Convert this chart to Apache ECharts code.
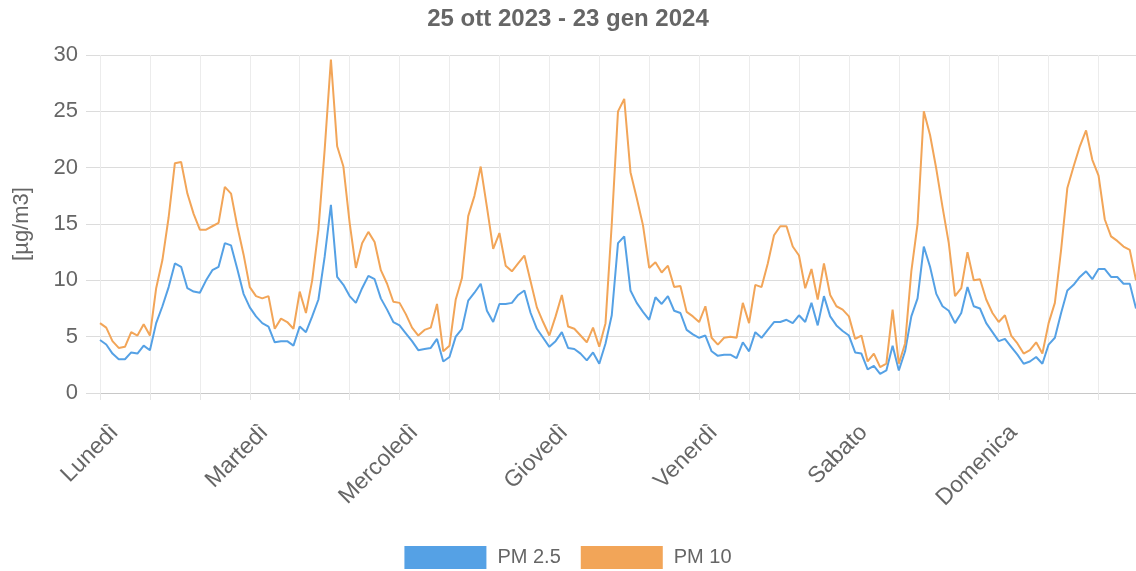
<!DOCTYPE html>
<html><head><meta charset="utf-8">
<script src="https://cdn.jsdelivr.net/npm/echarts/dist/echarts.min.js"></script>
<style>html,body{margin:0;padding:0;background:#fff}#c{width:1136px;height:571px}</style>
</head><body><div id="c"></div>
<script>
const title = '25 ott 2023 - 23 gen 2024';
const days = ['Lunedì','Martedì','Mercoledì','Giovedì','Venerdì','Sabato','Domenica'];
const yTicks = [0, 5, 10, 15, 20, 25, 30];
const pm25 = [
  // Lunedì
  4.7, 4.3, 3.5, 3.0, 3.0, 3.6, 3.5, 4.2, 3.8, 6.2, 7.7, 9.4, 11.5, 11.2, 9.3, 9.0, 8.9, 10.0, 10.9, 11.2, 13.3, 13.1, 11.0, 8.8,
  // Martedì
  7.6, 6.8, 6.2, 5.9, 4.5, 4.6, 4.6, 4.2, 5.9, 5.4, 6.8, 8.3, 12.1, 16.7, 10.3, 9.6, 8.6, 8.0, 9.3, 10.4, 10.1, 8.4, 7.4, 6.3,
  // Mercoledì
  6.0, 5.3, 4.6, 3.8, 3.9, 4.0, 4.8, 2.8, 3.2, 5.0, 5.7, 8.2, 8.9, 9.7, 7.3, 6.3, 7.9, 7.9, 8.0, 8.7, 9.1, 7.1, 5.7, 4.9,
  // Giovedì
  4.1, 4.6, 5.4, 4.0, 3.9, 3.5, 2.9, 3.6, 2.6, 4.4, 6.9, 13.3, 13.9, 9.1, 8.0, 7.2, 6.5, 8.5, 7.9, 8.6, 7.3, 7.1, 5.6, 5.2,
  // Venerdì
  4.9, 5.1, 3.7, 3.3, 3.4, 3.4, 3.1, 4.5, 3.7, 5.4, 4.9, 5.6, 6.3, 6.3, 6.5, 6.2, 6.9, 6.3, 8.0, 6.0, 8.6, 6.8, 6.0, 5.5,
  // Sabato
  5.1, 3.6, 3.5, 2.1, 2.4, 1.7, 2.0, 4.2, 2.0, 3.7, 6.8, 8.4, 13.0, 11.2, 8.8, 7.7, 7.3, 6.2, 7.1, 9.4, 7.7, 7.5, 6.2, 5.4,
  // Domenica
  4.6, 4.8, 4.1, 3.4, 2.6, 2.8, 3.2, 2.6, 4.3, 4.9, 7.1, 9.1, 9.6, 10.3, 10.8, 10.1, 11.0, 11.0, 10.3, 10.3, 9.7, 9.7, 7.5
];
const pm10 = [
  // Lunedì
  6.2, 5.8, 4.6, 4.0, 4.1, 5.4, 5.1, 6.1, 5.1, 9.3, 11.8, 15.6, 20.4, 20.5, 17.7, 15.9, 14.5, 14.5, 14.8, 15.1, 18.3, 17.7, 14.8, 12.3,
  // Martedì
  9.4, 8.6, 8.4, 8.6, 5.7, 6.6, 6.3, 5.7, 9.0, 7.1, 10.0, 14.5, 21.6, 29.6, 21.9, 20.1, 15.1, 11.1, 13.3, 14.3, 13.4, 10.9, 9.7, 8.1,
  // Mercoledì
  8.0, 7.0, 5.8, 5.1, 5.6, 5.8, 7.9, 3.7, 4.2, 8.3, 10.2, 15.7, 17.5, 20.1, 16.5, 12.8, 14.2, 11.3, 10.8, 11.5, 12.2, 9.9, 7.6, 6.3,
  // Giovedì
  5.1, 6.8, 8.7, 5.9, 5.7, 5.1, 4.5, 5.8, 4.1, 6.2, 15.0, 25.0, 26.1, 19.6, 17.3, 14.9, 11.1, 11.6, 10.7, 11.3, 9.4, 9.5, 7.2, 6.8,
  // Venerdì
  6.3, 7.7, 4.9, 4.3, 4.9, 5.0, 4.9, 8.0, 6.2, 9.6, 9.4, 11.5, 14.0, 14.8, 14.8, 13.0, 12.2, 9.3, 11.0, 8.3, 11.5, 8.7, 7.7, 7.4,
  // Sabato
  6.8, 4.8, 5.1, 2.8, 3.5, 2.3, 2.6, 7.4, 2.6, 4.4, 10.8, 15.0, 25.0, 22.9, 19.9, 16.5, 13.3, 8.6, 9.3, 12.5, 10.0, 10.1, 8.3, 7.1,
  // Domenica
  6.3, 6.9, 5.1, 4.4, 3.5, 3.8, 4.5, 3.5, 6.2, 8.0, 12.7, 18.2, 20.1, 21.9, 23.3, 20.7, 19.3, 15.4, 13.9, 13.5, 13.0, 12.7, 10.0
];
const categories = pm25.map((_, i) => days[Math.floor(i / 24)] + ' ' + (i % 24));

const FONT = '"Liberation Sans", Arial, sans-serif';
const chart = echarts.init(document.getElementById('c'), null, {renderer: 'canvas'});
chart.setOption({
  animation: false,
  backgroundColor: '#fff',
  title: {
    text: title, left: 'center', top: 2,
    textStyle: {fontFamily: FONT, fontSize: 24, fontWeight: 'bold', color: '#666'}
  },
  legend: {
    bottom: 2, left: 'center', padding: 0, icon: 'rect', itemWidth: 82, itemHeight: 23, itemGap: 20,
    textStyle: {fontFamily: FONT, fontSize: 20, color: '#666', padding: [0, 0, 0, 6]},
    data: ['PM 2.5', 'PM 10']
  },
  grid: {left: 100, right: 0, top: 55, bottom: 178, containLabel: false, outerBoundsMode: 'none'},
  xAxis: {
    type: 'category', data: categories, boundaryGap: false,
    axisLine: {show: true, lineStyle: {color: '#c8c8c8', width: 1}},
    axisTick: {show: true, interval: 7, length: 7, lineStyle: {color: '#e6e6e6'}},
    splitLine: {show: true, interval: 7, lineStyle: {color: '#ececec', width: 1}},
    axisLabel: {
      interval: 23, rotate: 45, margin: 21, verticalAlign: 'top', lineHeight: 42,
      fontFamily: FONT, fontSize: 23, color: '#666',
      formatter: v => v.split(' ')[0]
    }
  },
  yAxis: {
    type: 'value', min: yTicks[0], max: yTicks[yTicks.length - 1], interval: 5,
    name: '[µg/m3]', nameLocation: 'middle', nameGap: 67, nameRotate: 90,
    nameTextStyle: {fontFamily: FONT, fontSize: 22, color: '#666'},
    axisLine: {show: false},
    axisTick: {show: true, length: 14, lineStyle: {color: '#dcdcdc'}},
    splitLine: {show: true, lineStyle: {color: '#dcdcdc', width: 1}},
    axisLabel: {fontFamily: FONT, fontSize: 22, color: '#666', margin: 22}
  },
  series: [
    {name: 'PM 2.5', type: 'line', data: pm25, showSymbol: false, smooth: false,
     color: '#55a1e5', lineStyle: {width: 2, color: '#55a1e5'}},
    {name: 'PM 10', type: 'line', data: pm10, showSymbol: false, smooth: false,
     color: '#f2a558', lineStyle: {width: 2, color: '#f2a558'}}
  ]
});
</script>
</body></html>
